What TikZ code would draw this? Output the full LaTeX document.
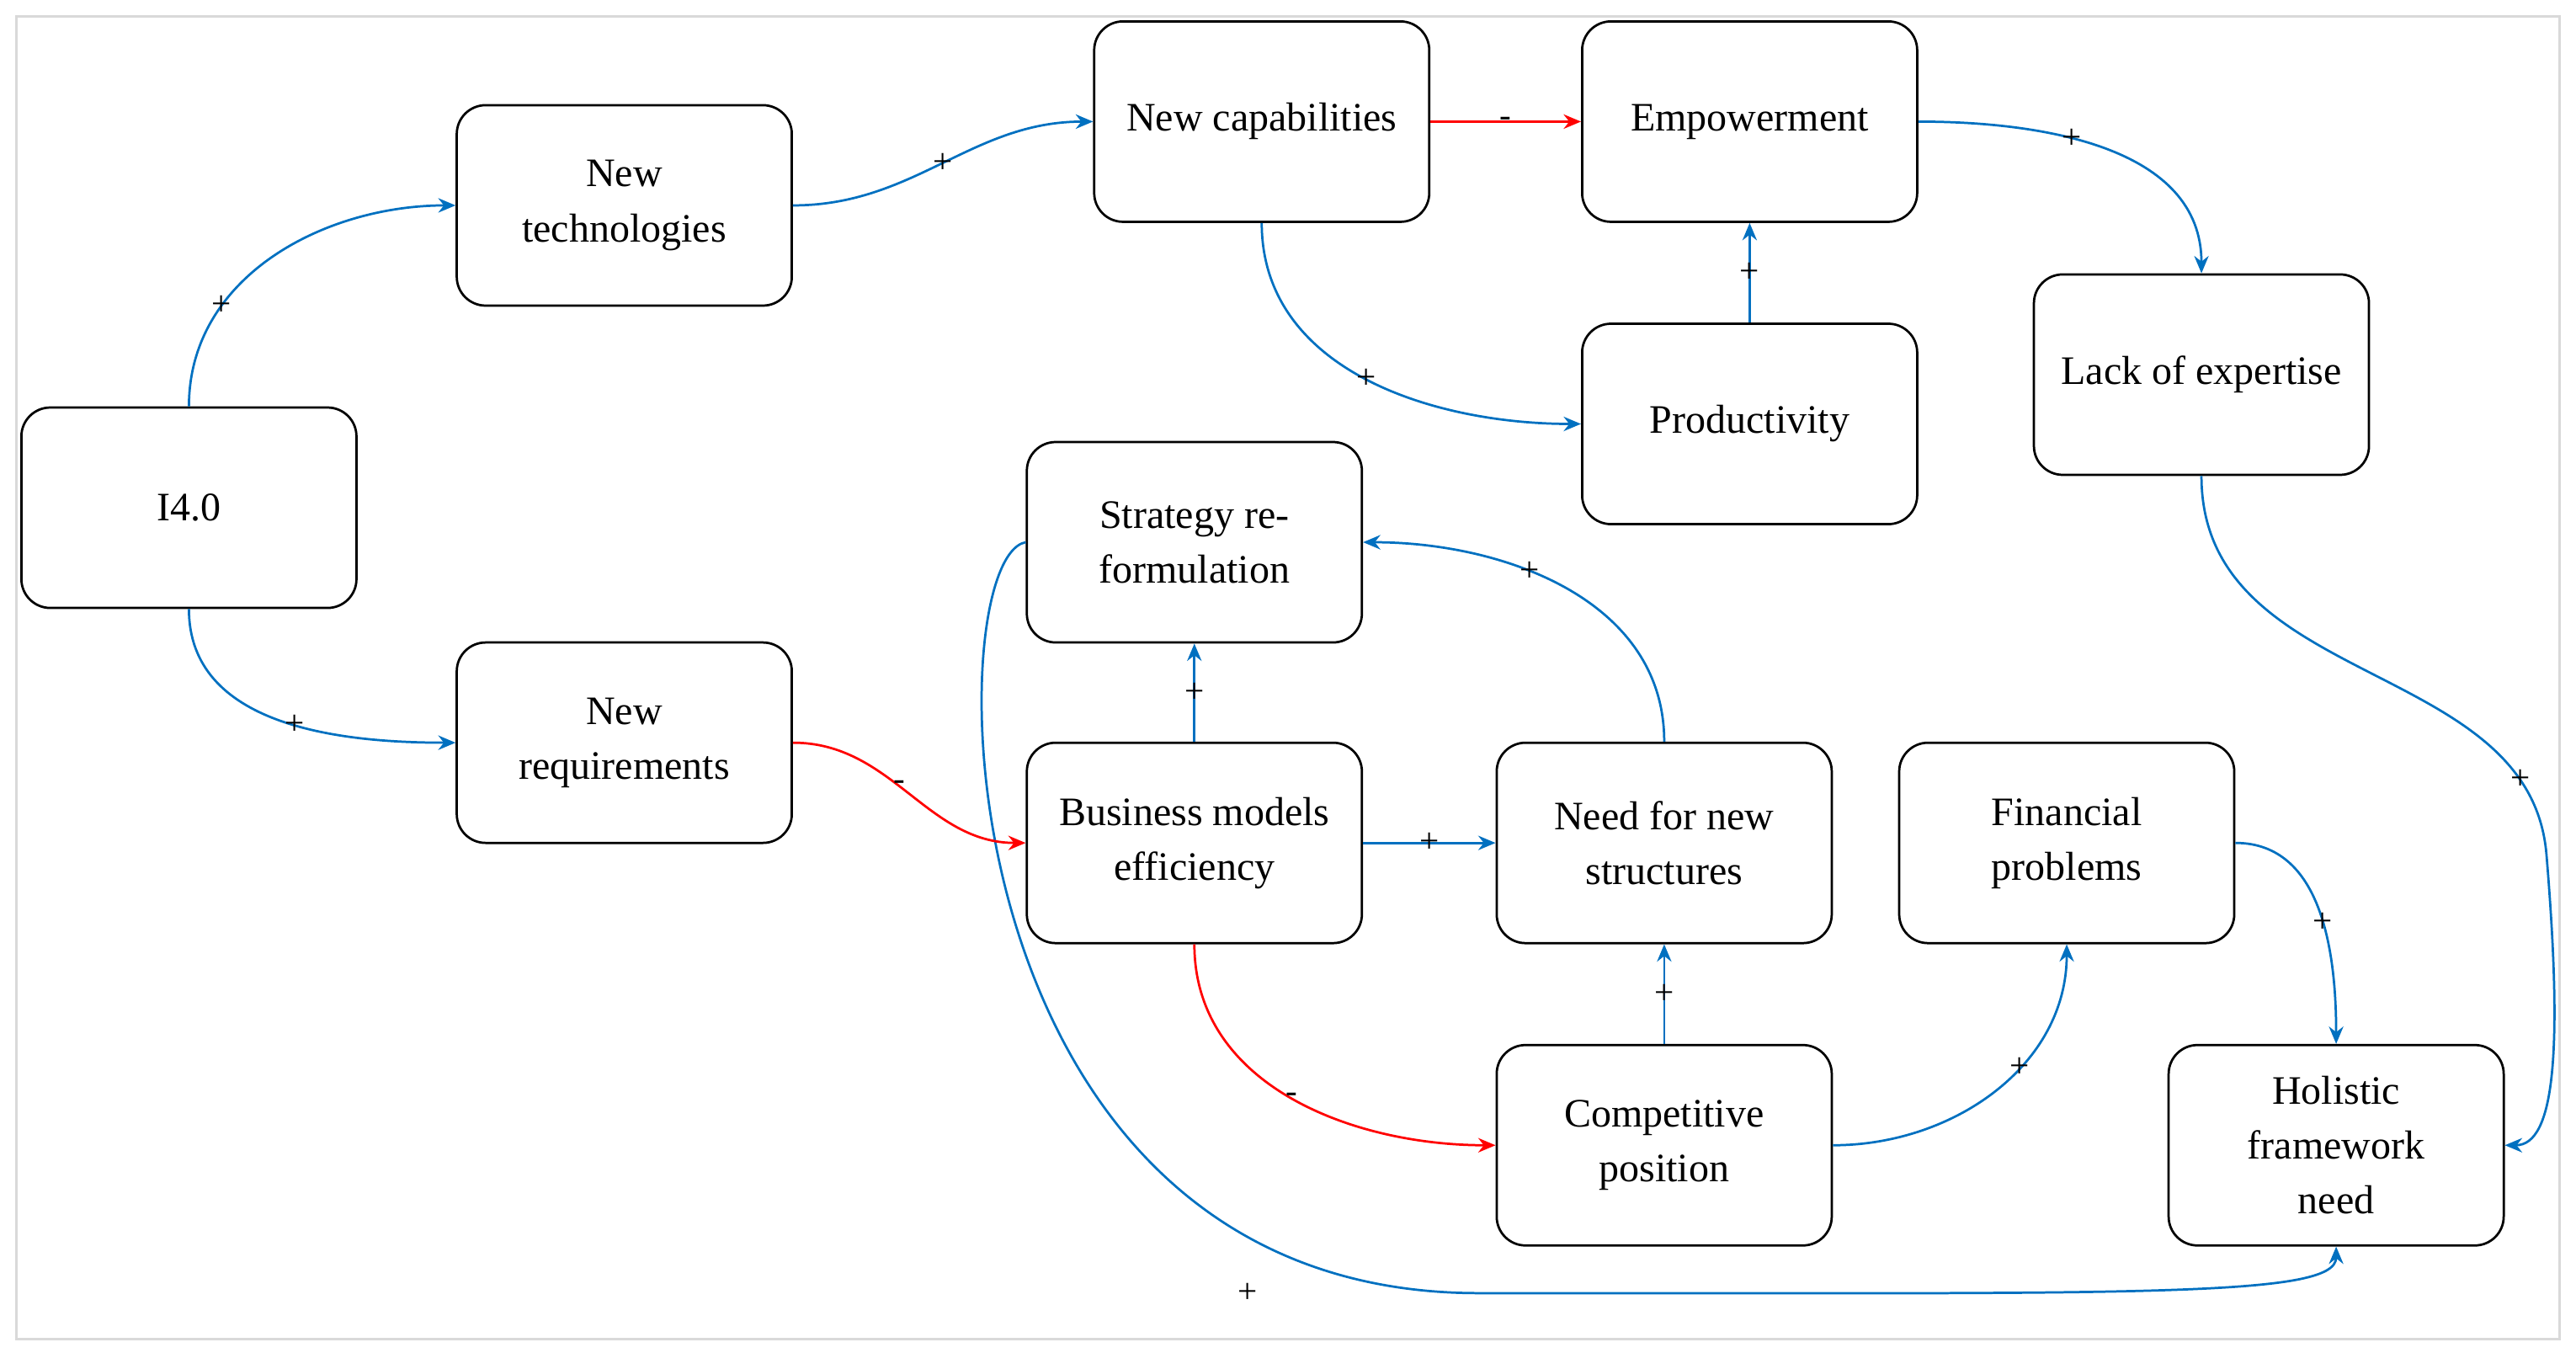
\documentclass[tikz,border=0pt]{standalone}
\usepackage{fontspec}
\setmainfont{Liberation Serif}
\usetikzlibrary{arrows.meta,positioning}
\definecolor{lblue}{RGB}{0,112,192}
\tikzset{
    box/.style={draw, rounded corners=10pt, thick, minimum width=4.08cm, minimum height=2.44cm,
        align=center, font=\fontsize{14}{19}\selectfont},
    plink/.style={->, >={Stealth[length=6pt,width=5pt]}, lblue, thick},
    nlink/.style={->, >={Stealth[length=6pt,width=5pt]}, red, thick},
    sgn/.style={black, font=\fontsize{12}{12}\selectfont, inner sep=1pt}
}
\begin{document}
\begin{tikzpicture}[x=0.02cm, y=-0.02cm]
    \useasboundingbox (0,0) rectangle (1568,823);
    \draw[gray!30, thick] (10,10) rectangle (1558,815);

    \node[box] (i40)  at (115,309)  {I4.0};
    \node[box] (tech) at (380,125)  {New\\technologies};
    \node[box] (req)  at (380,452)  {New\\requirements};
    \node[box] (cap)  at (768,74)   {New capabilities};
    \node[box] (emp)  at (1065,74)  {Empowerment};
    \node[box] (prod) at (1065,258) {Productivity};
    \node[box] (lack) at (1340,228) {Lack of expertise};
    \node[box] (strat) at (727,330) {Strategy re-\\formulation};
    \node[box] (bme)  at (727,513)  {Business models\\efficiency};
    \node[box] (need) at (1013,513) {Need for new\\structures};
    \node[box] (fin)  at (1258,513) {Financial\\problems};
    \node[box] (comp) at (1013,697) {Competitive\\position};
    \node[box] (hol)  at (1422,697) {Holistic\\framework\\need};

    \path[plink]
        (i40.north) edge[out=90, in=180] node[sgn, pos=0.3] {+} (tech.west)
        (i40.south) edge[out=-90, in=180] node[sgn, pos=0.55] {+} (req.west)
        (tech.east) edge[out=0, in=180] node[sgn] {+} (cap.west)
        (emp.east) edge[out=0, in=90] node[sgn, pos=0.4] {+} (lack.north)
        (cap.south) edge[out=-90, in=180] node[sgn, pos=0.5] {+} (prod.west)
        (prod.north) edge node[sgn] {+} (emp.south)
        (bme.north) edge node[sgn] {+} (strat.south)
        (bme.east) edge node[sgn] {+} (need.west)
        (need.north) edge[out=90, in=0] node[sgn, pos=0.6] {+} (strat.east)
        (comp.north) edge node[sgn] {+} (need.south)
        (comp.east) edge[out=0, in=-90] node[sgn, pos=0.6] {+} (fin.south)
        (fin.east) edge[out=0, in=90] node[sgn, pos=0.55] {+} (hol.north)
    ;
    \draw[plink] (lack.south) .. controls (1340,420) and (1540,400) .. (1550,520)
        node[sgn, pos=0.85] {+}
        .. controls (1560,640) and (1555,697) .. (hol.east);
    \draw[plink] (strat.west) .. controls (570,340) and (570,787) .. (900,787)
        node[sgn, pos=1, xshift=-80] {+}
        .. controls (1300,787) and (1422,790) .. (hol.south);

    \path[nlink]
        (cap.east) edge node[sgn] {-} (emp.west)
        (req.east) edge[out=0, in=180] node[sgn, pos=0.45] {-} (bme.west)
        (bme.south) edge[out=-90, in=180] node[sgn, pos=0.5] {-} (comp.west)
    ;
\end{tikzpicture}
\end{document}
